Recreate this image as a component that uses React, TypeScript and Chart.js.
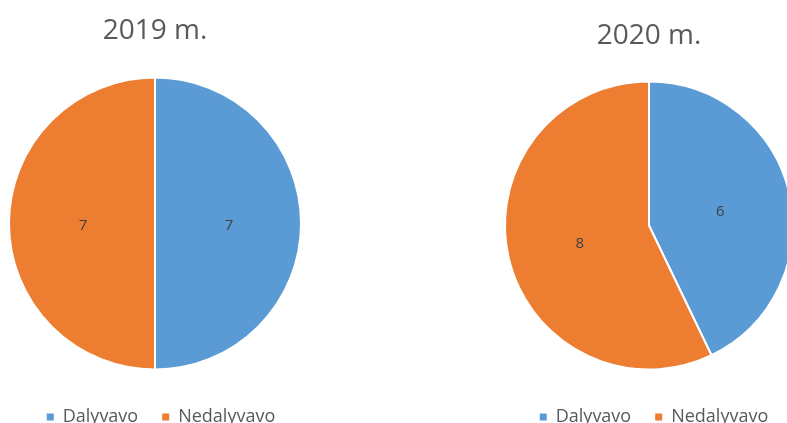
import React, { useEffect, useRef } from "react";
import { Chart, registerables } from "chart.js";

Chart.register(...registerables);

const categories = ["Dalyvavo", "Nedalyvavo"];
const values2019 = [7, 7];
const values2020 = [6, 8];
const titles = ["2019 m.", "2020 m."];
const colors = ["#5B9BD5", "#ED7D31"];

const FONT = "'Open Sans', 'Noto Sans', sans-serif";

const dataLabelPlugin = {
  id: "dataLabels",
  afterDatasetsDraw(chart: any) {
    const ctx = chart.ctx;
    const meta = chart.getDatasetMeta(0);
    const data = chart.data.datasets[0].data;
    ctx.save();
    ctx.font = `15px ${FONT}`;
    ctx.fillStyle = "#404040";
    ctx.textAlign = "center";
    ctx.textBaseline = "middle";
    meta.data.forEach((arc: any, i: number) => {
      const p = arc.tooltipPosition();
      ctx.fillText(String(data[i]), p.x + 1, p.y + 2);
    });
    ctx.restore();
  },
};

const legendShiftPlugin = {
  id: "legendShift",
  afterLayout(chart: any, _args: any, opts: any) {
    const dx = (opts && opts.dx) || 0;
    if (chart.legend) {
      chart.legend.left += dx;
      chart.legend.right += dx;
    }
  },
};

function PieChart(props: {
  values: number[];
  title: string;
  titleTop: number;
  titleBottom: number;
  radius: number;
  width: number;
  height: number;
  legendDx: number;
}) {
  const ref = useRef<HTMLCanvasElement | null>(null);
  useEffect(() => {
    if (!ref.current) return;
    const chart = new Chart(ref.current, {
      type: "pie",
      data: {
        labels: categories,
        datasets: [
          {
            data: props.values,
            backgroundColor: colors,
            borderColor: "#ffffff",
            borderWidth: 2,
          },
        ],
      },
      options: {
        responsive: false,
        animation: false,
        radius: props.radius,
        layout: { padding: 0 },
        plugins: {
          title: {
            display: true,
            text: props.title,
            color: "#595959",
            font: { family: FONT, size: 28, weight: "normal", lineHeight: 1.2 },
            padding: { top: props.titleTop, bottom: props.titleBottom },
          },
          legend: {
            display: true,
            position: "bottom",
            labels: {
              color: "#595959",
              font: { family: FONT, size: 18 },
              boxWidth: 7,
              boxHeight: 7,
              padding: 24,
              generateLabels: (c: any) => {
                const base = (Chart as any).overrides.doughnut.plugins.legend.labels.generateLabels(c);
                return base.map((it: any) => ({ ...it, lineWidth: 0, strokeStyle: "rgba(0,0,0,0)" }));
              },
            },
          },
          legendShift: { dx: props.legendDx },
          tooltip: { enabled: false },
        },
      } as any,
      plugins: [dataLabelPlugin, legendShiftPlugin],
    });
    return () => chart.destroy();
  }, []);
  return <canvas ref={ref} width={props.width} height={props.height} />;
}

export default function App() {
  return (
    <div
      style={{
        position: "absolute",
        left: 0,
        top: 0,
        width: 787,
        height: 423,
        overflow: "hidden",
        background: "#ffffff",
      }}
    >
      <div style={{ position: "absolute", left: 0, top: 0 }}>
        <PieChart values={values2019} title={titles[0]} titleTop={14.4} titleBottom={15} radius={146} width={310} height={436} legendDx={6} />
      </div>
      <div style={{ position: "absolute", left: 499, top: 0 }}>
        <PieChart values={values2020} title={titles[1]} titleTop={19} titleBottom={14.4} radius={144} width={300} height={436} legendDx={5} />
      </div>
    </div>
  );
}
